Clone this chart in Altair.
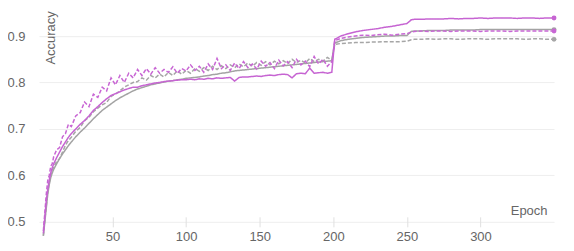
import altair as alt
import pandas as pd

# ---- data ----
epochs = ([3, 4, 5, 6, 7, 8, 9, 10, 12, 14, 16, 18, 20]
          + list(range(22, 200, 3))
          + [201, 205, 210, 215, 220, 225, 230, 235, 240, 245, 250, 253]
          + list(range(255, 351, 5)))

gray_solid = [
    0.47, 0.50, 0.53, 0.56, 0.58, 0.595, 0.605, 0.613, 0.625, 0.636, 0.646, 0.655, 0.664,
    0.672, 0.683, 0.693, 0.702, 0.712, 0.722, 0.731, 0.740, 0.747, 0.754,
    0.761, 0.767, 0.772, 0.777, 0.782, 0.786, 0.789, 0.792, 0.795, 0.797,
    0.799, 0.801, 0.803, 0.804, 0.806, 0.807, 0.809, 0.810, 0.811, 0.812,
    0.814, 0.815, 0.817, 0.818, 0.820, 0.821, 0.823, 0.825, 0.826, 0.827,
    0.828, 0.829, 0.830, 0.831, 0.832, 0.833, 0.834, 0.835, 0.836, 0.837,
    0.838, 0.839, 0.840, 0.841, 0.842, 0.843, 0.844, 0.845, 0.846, 0.847,
    0.885, 0.890, 0.893, 0.895, 0.897, 0.898, 0.899, 0.900, 0.900, 0.901, 0.901, 0.910,
    0.911, 0.911, 0.912, 0.912, 0.912, 0.913, 0.913, 0.913, 0.913, 0.914,
    0.914, 0.914, 0.914, 0.914, 0.914, 0.914, 0.914, 0.914, 0.914, 0.914,
]

pink_solid = [
    0.475, 0.51, 0.545, 0.57, 0.59, 0.605, 0.616, 0.625, 0.638, 0.65, 0.662, 0.672, 0.682,
    0.69, 0.70, 0.71, 0.718, 0.728, 0.74, 0.748, 0.757, 0.765, 0.772,
    0.776, 0.78, 0.784, 0.787, 0.79, 0.79, 0.793, 0.795, 0.797, 0.799,
    0.80, 0.802, 0.803, 0.804, 0.805, 0.806, 0.806, 0.807, 0.806, 0.808,
    0.807, 0.809, 0.808, 0.810, 0.809, 0.810, 0.811, 0.803, 0.811, 0.812,
    0.812, 0.813, 0.814, 0.813, 0.815, 0.816, 0.815, 0.817, 0.818, 0.817,
    0.810, 0.819, 0.820, 0.819, 0.831, 0.820, 0.821, 0.822, 0.820, 0.822,
    0.893, 0.900, 0.905, 0.909, 0.912, 0.914, 0.916, 0.919, 0.921, 0.924, 0.927, 0.935,
    0.936, 0.936, 0.937, 0.937, 0.937, 0.938, 0.937, 0.938, 0.938, 0.939,
    0.938, 0.939, 0.939, 0.939, 0.938, 0.939, 0.939, 0.938, 0.939, 0.939,
]

pink_dashed = [
    0.48, 0.52, 0.56, 0.59, 0.60, 0.62, 0.625, 0.64, 0.655, 0.66, 0.683, 0.69, 0.71,
    0.705, 0.728, 0.735, 0.758, 0.748, 0.775, 0.768, 0.79, 0.782, 0.81,
    0.795, 0.815, 0.80, 0.82, 0.81, 0.828, 0.815, 0.83, 0.818, 0.832,
    0.82, 0.828, 0.822, 0.834, 0.82, 0.83, 0.825, 0.838, 0.826, 0.835,
    0.822, 0.84, 0.828, 0.852, 0.83, 0.838, 0.826, 0.842, 0.83, 0.845,
    0.832, 0.84, 0.829, 0.846, 0.835, 0.843, 0.83, 0.848, 0.836, 0.845,
    0.832, 0.85, 0.838, 0.846, 0.834, 0.856, 0.84, 0.85, 0.835, 0.845,
    0.89, 0.895, 0.898, 0.90, 0.902, 0.901, 0.903, 0.904, 0.902, 0.904, 0.905, 0.909,
    0.910, 0.911, 0.910, 0.911, 0.911, 0.910, 0.911, 0.911, 0.911, 0.910,
    0.911, 0.911, 0.911, 0.910, 0.911, 0.911, 0.911, 0.911, 0.911, 0.911,
]

gray_dashed = [
    0.47, 0.505, 0.535, 0.565, 0.585, 0.60, 0.61, 0.618, 0.63, 0.636, 0.65, 0.665, 0.675,
    0.682, 0.695, 0.703, 0.718, 0.725, 0.737, 0.745, 0.752, 0.757, 0.77,
    0.775, 0.782, 0.79, 0.795, 0.80, 0.802, 0.81, 0.805, 0.815, 0.81,
    0.818, 0.812, 0.822, 0.815, 0.825, 0.818, 0.826, 0.82, 0.83, 0.824,
    0.832, 0.826, 0.835, 0.828, 0.836, 0.83, 0.838, 0.832, 0.84, 0.834,
    0.842, 0.835, 0.843, 0.837, 0.845, 0.838, 0.846, 0.84, 0.847, 0.841,
    0.85, 0.843, 0.848, 0.842, 0.852, 0.845, 0.85, 0.846, 0.854, 0.848,
    0.882, 0.884, 0.885, 0.886, 0.886, 0.887, 0.887, 0.888, 0.888, 0.888, 0.889, 0.892,
    0.893, 0.893, 0.894, 0.893, 0.894, 0.894, 0.893, 0.894, 0.894, 0.894,
    0.893, 0.894, 0.894, 0.894, 0.894, 0.893, 0.894, 0.894, 0.893, 0.893,
]

series_names = ["1 gray dashed", "2 gray solid", "3 pink dashed", "4 pink solid"]
series_values = [gray_dashed, gray_solid, pink_dashed, pink_solid]
series_colors = ["#a6a6a6", "#a3a3a3", "#c866d4", "#c664d2"]
series_dashes = [[4, 2], [1, 0], [4, 2], [1, 0]]

x_ticks = [50, 100, 150, 200, 250, 300]
y_ticks = [0.5, 0.6, 0.7, 0.8, 0.9]

# ---- tables ----
rows = []
for name, vals in zip(series_names, series_values):
    for e, v in zip(epochs, vals):
        rows.append({"epoch": e, "acc": v, "series": name})
df = pd.DataFrame(rows)
last = pd.DataFrame({"epoch": [epochs[-1]] * 4,
                     "acc": [v[-1] for v in series_values],
                     "series": series_names})

color_scale = alt.Scale(domain=series_names, range=series_colors)
dash_scale = alt.Scale(domain=series_names, range=series_dashes)

x_enc = alt.X("epoch:Q",
              scale=alt.Scale(domain=[0, 350], nice=False, zero=False),
              axis=alt.Axis(values=x_ticks, grid=False, domain=False, ticks=True,
                            tickSize=10, tickColor="#e0e0e0", offset=-5,
                            labelFontSize=13, labelColor="#666666", labelPadding=4,
                            labelFont="Liberation Sans",
                            title="Epoch", titleX=509, titleY=-2, titleAlign="right",
                            titleBaseline="alphabetic", titleFontWeight="normal",
                            titleFontSize=13, titleColor="#666666",
                            titleFont="Liberation Sans"))
y_enc = alt.Y("acc:Q",
              scale=alt.Scale(domain=[0.5, 0.96], nice=False, zero=False),
              axis=alt.Axis(values=y_ticks, format=".1f", grid=True,
                            gridColor="#eeeeee", domain=False, ticks=False,
                            labelFontSize=13, labelColor="#666666", labelPadding=14,
                            labelFont="Liberation Sans",
                            title="Accuracy", titleX=16, titleY=56, titleAngle=270,
                            titleAlign="left", titleBaseline="alphabetic",
                            titleFontWeight="normal", titleFontSize=13,
                            titleColor="#666666", titleFont="Liberation Sans"))

lines = alt.Chart(df).mark_line(strokeWidth=1.5).encode(
    x=x_enc, y=y_enc,
    color=alt.Color("series:N", scale=color_scale, legend=None),
    strokeDash=alt.StrokeDash("series:N", scale=dash_scale, legend=None),
)
points = alt.Chart(last).mark_point(filled=True, size=24, opacity=1).encode(
    x="epoch:Q", y="acc:Q",
    color=alt.Color("series:N", scale=color_scale, legend=None),
)

chart = alt.layer(lines, points).properties(
    width=516, height=214,
    autosize=alt.AutoSizeParams(type="none"),
    padding={"left": 31, "top": 0, "right": 12, "bottom": 24},
).configure_view(stroke=None)

chart.save("out.html", embed_options={"renderer": "svg", "actions": False})
